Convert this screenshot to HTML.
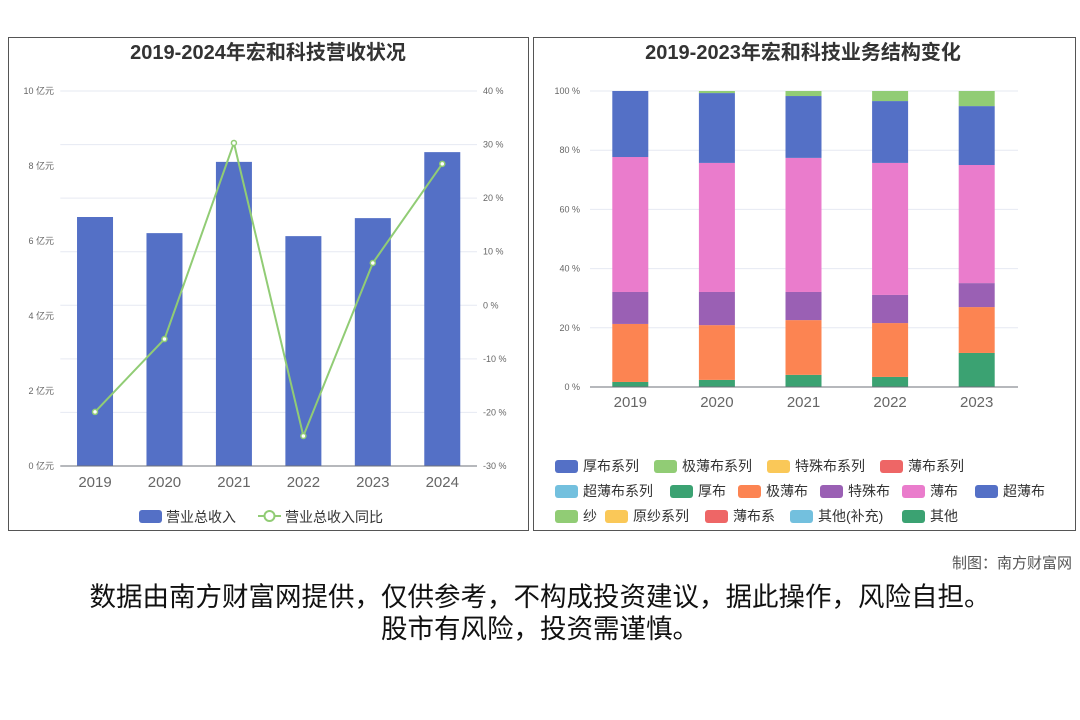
<!DOCTYPE html>
<html><head><meta charset="utf-8"><style>
body{margin:0;width:1080px;height:720px;background:#fff;font-family:"Liberation Sans","Noto Sans CJK SC",sans-serif;position:relative;overflow:hidden}
.panel{position:absolute;border:1px solid #555;background:#fff}
.t{position:absolute;white-space:nowrap}
</style></head><body>
<div class="panel" style="left:8px;top:37px;width:519px;height:492px"></div>
<div class="panel" style="left:533px;top:37px;width:541px;height:492px"></div>
<svg id="c" width="1080" height="720" style="position:absolute;left:0;top:0"></svg>
<div class="t" style="right:8px;top:552px;font-size:15px;color:#555">制图：南方财富网</div>
<div class="t" style="left:0;width:1080px;text-align:center;top:581px;font-size:26.5px;line-height:32px;color:#111">数据由南方财富网提供，仅供参考，不构成投资建议，据此操作，风险自担。<br>股市有风险，投资需谨慎。</div>
<script>
const years1=['2019','2020','2021','2022','2023','2024'];
const revenue=[6.64,6.21,8.11,6.13,6.61,8.37];
const growth=[-19.9,-6.3,30.3,-24.4,7.9,26.4];
const leftTicks=[0,2,4,6,8,10];
const rightTicks=[-30,-20,-10,0,10,20,30,40];
const years2=['2019','2020','2021','2022','2023'];
const sHoubu=[1.7,2.4,4.1,3.4,11.5];
const sJibaobu=[19.6,18.5,18.5,18.2,15.5];
const sTeshubu=[10.8,11.2,9.5,9.5,8.1];
const sBaobu=[45.6,43.6,45.3,44.6,39.9];
const sChaobaobu=[22.3,23.6,20.9,20.9,19.9];
const sSha=[0,0.7,1.7,3.4,5.1];
const pctTicks=[0,20,40,60,80,100];

const svg=document.getElementById('c');const NS='http://www.w3.org/2000/svg';
function mk(tag,a,txt){const e=document.createElementNS(NS,tag);for(const k in a)e.setAttribute(k,a[k]);if(txt!=null)e.textContent=txt;svg.appendChild(e);return e;}
let e;
e=mk('text',{x:268,y:59,'text-anchor':'middle','font-size':20,'font-weight':'bold',fill:'#333'},'2019-2024年宏和科技营收状况');

e=mk('text',{x:803,y:59,'text-anchor':'middle','font-size':20,'font-weight':'bold',fill:'#333'},'2019-2023年宏和科技业务结构变化');

const X0=60.3,BW=69.45,Y0=466,Y1=91;
const yL=v=>Y0-(v/10)*(Y0-Y1);
const yR=v=>Y0-((v+30)/70)*(Y0-Y1);
const xc=i=>X0+BW*(i+0.5);
rightTicks.forEach(t=>{e=mk('line',{x1:X0,x2:477,y1:yR(t),y2:yR(t),stroke:'#e6e9f2'});
e=mk('text',{x:483,y:yR(t)+3,'font-size':9,fill:'#666'},t+' %');});
leftTicks.forEach(t=>{e=mk('text',{x:54,y:yL(t)+3,'font-size':9,fill:'#666','text-anchor':'end'},t+' 亿元');});
revenue.forEach((v,i)=>{e=mk('rect',{x:xc(i)-18,y:yL(v),width:36,height:Y0-yL(v),fill:'#5470c6'});
e=mk('text',{x:xc(i),y:487,'font-size':15,fill:'#666','text-anchor':'middle'},years1[i]);});
e=mk('line',{x1:X0,x2:477,y1:Y0,y2:Y0,stroke:'#6e7079'});
e=mk('polyline',{points:growth.map((v,i)=>xc(i)+','+yR(v)).join(' '),fill:'none',stroke:'#91cc75','stroke-width':2});
growth.forEach((v,i)=>{e=mk('circle',{cx:xc(i),cy:yR(v),r:2.5,fill:'#fff',stroke:'#91cc75','stroke-width':1.5});});
e=mk('rect',{x:139,y:510,width:23,height:13,rx:3,fill:'#5470c6'});
e=mk('text',{x:166,y:522,'font-size':14,fill:'#333'},'营业总收入');
e=mk('line',{x1:258,x2:281,y1:516,y2:516,stroke:'#91cc75','stroke-width':2});
e=mk('circle',{cx:269.5,cy:516,r:5,fill:'#fff',stroke:'#91cc75','stroke-width':2});
e=mk('text',{x:285,y:522,'font-size':14,fill:'#333'},'营业总收入同比');
const RX0=587,RBW=86.6,RY0=387,RY1=91;
const yP=v=>RY0-(v/100)*(RY0-RY1);
const rxc=i=>RX0+RBW*(i+0.5);
pctTicks.forEach(t=>{e=mk('line',{x1:590,x2:1018,y1:yP(t),y2:yP(t),stroke:'#e6e9f2'});
e=mk('text',{x:580,y:yP(t)+3,'font-size':9,fill:'#666','text-anchor':'end'},t+' %');});
const series=[[sHoubu,'#3ba272','houbu'],[sJibaobu,'#fc8452','jibaobu'],[sTeshubu,'#9a60b4','teshubu'],[sBaobu,'#ea7ccc','baobu'],[sChaobaobu,'#5470c6','chaobaobu'],[sSha,'#91cc75','sha']];
years2.forEach((y,i)=>{let acc=0;series.forEach(s=>{const v=s[0][i];if(v>0){e=mk('rect',{x:rxc(i)-18,y:yP(acc+v),width:36,height:yP(acc)-yP(acc+v),fill:s[1]});}acc+=v;});
e=mk('text',{x:rxc(i),y:407,'font-size':15,fill:'#666','text-anchor':'middle'},y);});
e=mk('line',{x1:590,x2:1018,y1:RY0,y2:RY0,stroke:'#6e7079'});
const leg=[[[555,'#5470c6','厚布系列'],[654,'#91cc75','极薄布系列'],[767,'#fac858','特殊布系列'],[880,'#ee6666','薄布系列']],
[[555,'#73c0de','超薄布系列'],[670,'#3ba272','厚布'],[738,'#fc8452','极薄布'],[820,'#9a60b4','特殊布'],[902,'#ea7ccc','薄布'],[975,'#5470c6','超薄布']],
[[555,'#91cc75','纱'],[605,'#fac858','原纱系列'],[705,'#ee6666','薄布系'],[790,'#73c0de','其他(补充)'],[902,'#3ba272','其他']]];
leg.forEach((row,r)=>row.forEach(l=>{const y=466+r*25;e=mk('rect',{x:l[0],y:y-6,width:23,height:13,rx:3,fill:l[1]});
e=mk('text',{x:l[0]+28,y:y+5,'font-size':14,fill:'#333'},l[2]);}));
</script>
</body></html>
